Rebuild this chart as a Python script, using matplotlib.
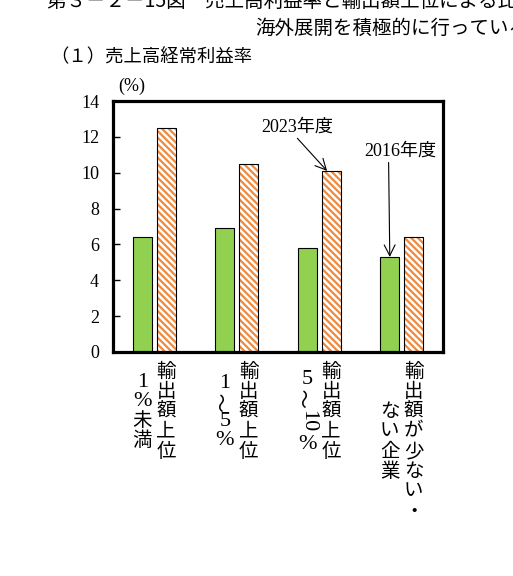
import matplotlib
matplotlib.use("Agg")
import matplotlib.pyplot as plt
import numpy as np

# ---- data ----
categories_top = ["輸出額上位", "輸出額上位", "輸出額上位", "輸出額が少ない・"]
categories_sub = ["1%未満", "1~5%", "5~10%", "ない企業"]
values_2016 = [6.4, 6.9, 5.8, 5.3]
values_2023 = [12.5, 10.5, 10.1, 6.4]
yticks = [0, 2, 4, 6, 8, 10, 12, 14]
label_2016 = "2016年度"
label_2023 = "2023年度"

DPI = 100
W, H = 513, 576
plt.rcParams['hatch.linewidth'] = 1.6
SERIF = ['Liberation Serif', 'Noto Sans CJK JP']
SANS = ['Noto Sans CJK JP', 'DejaVu Sans']

fig = plt.figure(figsize=(W / DPI, H / DPI), dpi=DPI)
ax_l, ax_b, ax_r, ax_t = 113, 352, 443, 101
ax = fig.add_axes([ax_l / W, 1 - ax_b / H, (ax_r - ax_l) / W, (ax_b - ax_t) / H])

x = np.arange(len(values_2016))
off = 0.145
bw = 0.23
ax.bar(x - off, values_2016, bw, color='#92D050', edgecolor='black', linewidth=0.8, zorder=2)
ax.bar(x + off, values_2023, bw, color='white', edgecolor='#EE8A3C',
       hatch='\\' * 5, linewidth=0, zorder=2)
ax.bar(x + off, values_2023, bw, fill=False, edgecolor='black', linewidth=0.8, zorder=3)

ax.set_xlim(-0.5, 3.5)
ax.set_ylim(0, 14)
ax.set_yticks(yticks)
ax.set_xticks([])
ax.tick_params(axis='y', direction='in', length=5, width=1, pad=10, labelsize=13)
for lab in ax.get_yticklabels():
    lab.set_fontfamily('Liberation Serif')
for sp in ax.spines.values():
    sp.set_linewidth(2.3)

ax.text(0.058, 1.06, "(%)", transform=ax.transAxes, ha='center', va='center',
        fontsize=13, family=SERIF)


def tokens(s):
    # (text, rotation, advance px, fontsize)
    out = []
    i = 0
    while i < len(s):
        ch = s[i]
        if ch.isdigit():
            j = i
            while j < len(s) and s[j].isdigit():
                j += 1
            grp = s[i:j]
            if len(grp) > 1:
                out.append((grp, 270, 27, 16))
            else:
                out.append((grp, 0, 19, 16))
            i = j
            continue
        if ch == '~':
            out.append(('〜', 90, 19, 14))
        elif ord(ch) < 128:
            out.append((ch, 0, 19, 16))
        else:
            out.append((ch, 0, 20, 14))
        i += 1
    return out


for i in range(len(categories_top)):
    cols = [(x[i] + off, tokens(categories_top[i])), (x[i] - off, tokens(categories_sub[i]))]
    L = max(sum(t[2] for t in toks) for _, toks in cols)
    center = 10 + L / 2
    for cx, toks in cols:
        tot = sum(t[2] for t in toks)
        yy = center - tot / 2
        for txt, rot, adv, fs in toks:
            ax.annotate(txt, xy=(cx, 0), xycoords=('data', 'axes fraction'),
                        xytext=(0, -(yy + adv / 2) * 72 / DPI), textcoords='offset points',
                        ha='center', va='center', rotation=rot, fontsize=fs,
                        family=SERIF, annotation_clip=False)
            yy += adv

ax.annotate(label_2023, xy=(x[2] + off - 0.05, values_2023[2]), xytext=(1.73, 12.55),
            ha='center', va='center', fontsize=13, family=SERIF,
            arrowprops=dict(arrowstyle='->,head_length=0.6,head_width=0.3', color='black',
                            lw=0.8, shrinkA=0, shrinkB=0, relpos=(0.47, 0)))
ax.annotate(label_2016, xy=(x[3] - off, values_2016[3]), xytext=(2.98, 11.2),
            ha='center', va='center', fontsize=13, family=SERIF,
            arrowprops=dict(arrowstyle='->,head_length=0.6,head_width=0.3', color='black',
                            lw=0.8, shrinkA=0, shrinkB=0, relpos=(0.34, 0)))

fig.text(47 / W, 1 - 1 / H, "第３－２－15図　売上高利益率と輸出額上位による比較",
         ha='left', va='center', fontsize=14, family=SANS)
fig.text(255 / W, 1 - 28 / H, "海外展開を積極的に行っている企業",
         ha='left', va='center', fontsize=14, family=SANS)
fig.text(50 / W, 1 - 57 / H, "（１）売上高経常利益率",
         ha='left', va='center', fontsize=13.2, family=SANS)

fig.savefig("out.png", dpi=DPI)
